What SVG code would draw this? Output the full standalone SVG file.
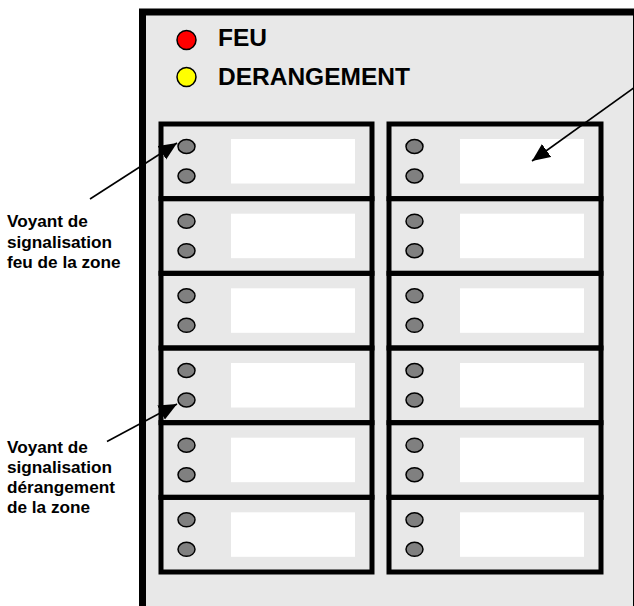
<svg xmlns="http://www.w3.org/2000/svg" width="634" height="606" viewBox="0 0 634 606">
<defs>
<style>
.zone{fill:none;stroke:#000;stroke-width:5}
.win{fill:#fff}
.led{fill:#808080;stroke:#000;stroke-width:1.5}
.big{font-family:"Liberation Sans",Arial,sans-serif;font-weight:bold;font-size:24.5px;fill:#000}
.lbl{font-family:"Liberation Sans",Arial,sans-serif;font-weight:bold;font-size:17.2px;fill:#000}
.conn{stroke:#000;stroke-width:1.6;fill:none}
</style>
<marker id="ah" markerUnits="userSpaceOnUse" markerWidth="20" markerHeight="18" refX="18" refY="8" orient="auto">
<path d="M0,0 L18,8 L0,16 Z" fill="#000"/>
</marker>
</defs>
<rect width="634" height="606" fill="#fff"/>
<g id="panel">
<rect x="142.5" y="12" width="494" height="620" fill="#E8E8E8" stroke="#000" stroke-width="7"/>
</g>
<g id="legend">
<circle cx="186.5" cy="40" r="9.5" fill="#ff0000" stroke="#000" stroke-width="1.5"/>
<text class="big" x="218" y="46">FEU</text>
<circle cx="186.5" cy="77" r="9.5" fill="#ffff00" stroke="#000" stroke-width="1.5"/>
<text class="big" x="218" y="85">DERANGEMENT</text>
</g>
<g id="zones-left">
<g id="zL1"><rect class="zone" x="161" y="124" width="211" height="74.67"/><rect class="win" x="231" y="139" width="124" height="44.5"/><ellipse class="led" cx="186.5" cy="146.5" rx="8.5" ry="7"/><ellipse class="led" cx="186.5" cy="176" rx="8.5" ry="7"/></g>
<g id="zL2"><rect class="zone" x="161" y="198.67" width="211" height="74.67"/><rect class="win" x="231" y="213.67" width="124" height="44.5"/><ellipse class="led" cx="186.5" cy="221.17" rx="8.5" ry="7"/><ellipse class="led" cx="186.5" cy="250.67" rx="8.5" ry="7"/></g>
<g id="zL3"><rect class="zone" x="161" y="273.33" width="211" height="74.67"/><rect class="win" x="231" y="288.33" width="124" height="44.5"/><ellipse class="led" cx="186.5" cy="295.83" rx="8.5" ry="7"/><ellipse class="led" cx="186.5" cy="325.33" rx="8.5" ry="7"/></g>
<g id="zL4"><rect class="zone" x="161" y="348" width="211" height="74.67"/><rect class="win" x="231" y="363" width="124" height="44.5"/><ellipse class="led" cx="186.5" cy="370.5" rx="8.5" ry="7"/><ellipse class="led" cx="186.5" cy="400" rx="8.5" ry="7"/></g>
<g id="zL5"><rect class="zone" x="161" y="422.67" width="211" height="74.67"/><rect class="win" x="231" y="437.67" width="124" height="44.5"/><ellipse class="led" cx="186.5" cy="445.17" rx="8.5" ry="7"/><ellipse class="led" cx="186.5" cy="474.67" rx="8.5" ry="7"/></g>
<g id="zL6"><rect class="zone" x="161" y="497.33" width="211" height="74.67"/><rect class="win" x="231" y="512.33" width="124" height="44.5"/><ellipse class="led" cx="186.5" cy="519.83" rx="8.5" ry="7"/><ellipse class="led" cx="186.5" cy="549.33" rx="8.5" ry="7"/></g>
</g>
<g id="zones-right">
<g id="zR1"><rect class="zone" x="389" y="124" width="212" height="74.67"/><rect class="win" x="460" y="139" width="124" height="44.5"/><ellipse class="led" cx="414.5" cy="146.5" rx="8.5" ry="7"/><ellipse class="led" cx="414.5" cy="176" rx="8.5" ry="7"/></g>
<g id="zR2"><rect class="zone" x="389" y="198.67" width="212" height="74.67"/><rect class="win" x="460" y="213.67" width="124" height="44.5"/><ellipse class="led" cx="414.5" cy="221.17" rx="8.5" ry="7"/><ellipse class="led" cx="414.5" cy="250.67" rx="8.5" ry="7"/></g>
<g id="zR3"><rect class="zone" x="389" y="273.33" width="212" height="74.67"/><rect class="win" x="460" y="288.33" width="124" height="44.5"/><ellipse class="led" cx="414.5" cy="295.83" rx="8.5" ry="7"/><ellipse class="led" cx="414.5" cy="325.33" rx="8.5" ry="7"/></g>
<g id="zR4"><rect class="zone" x="389" y="348" width="212" height="74.67"/><rect class="win" x="460" y="363" width="124" height="44.5"/><ellipse class="led" cx="414.5" cy="370.5" rx="8.5" ry="7"/><ellipse class="led" cx="414.5" cy="400" rx="8.5" ry="7"/></g>
<g id="zR5"><rect class="zone" x="389" y="422.67" width="212" height="74.67"/><rect class="win" x="460" y="437.67" width="124" height="44.5"/><ellipse class="led" cx="414.5" cy="445.17" rx="8.5" ry="7"/><ellipse class="led" cx="414.5" cy="474.67" rx="8.5" ry="7"/></g>
<g id="zR6"><rect class="zone" x="389" y="497.33" width="212" height="74.67"/><rect class="win" x="460" y="512.33" width="124" height="44.5"/><ellipse class="led" cx="414.5" cy="519.83" rx="8.5" ry="7"/><ellipse class="led" cx="414.5" cy="549.33" rx="8.5" ry="7"/></g>
</g>
<g id="label-feu">
<text class="lbl" x="7" y="227">Voyant de</text>
<text class="lbl" x="7" y="247.5">signalisation</text>
<text class="lbl" x="7" y="267.5">feu de la zone</text>
</g>
<g id="label-derangement">
<text class="lbl" x="7" y="452.5">Voyant de</text>
<text class="lbl" x="7" y="472.5">signalisation</text>
<text class="lbl" x="7" y="492.5">dérangement</text>
<text class="lbl" x="7" y="512.5">de la zone</text>
</g>
<g id="connectors">
<line class="conn" x1="90" y1="199" x2="177" y2="143" marker-end="url(#ah)"/>
<line class="conn" x1="107" y1="441.5" x2="177" y2="404" marker-end="url(#ah)"/>
<line class="conn" x1="642" y1="82" x2="532" y2="161" marker-end="url(#ah)"/>
</g>
</svg>
